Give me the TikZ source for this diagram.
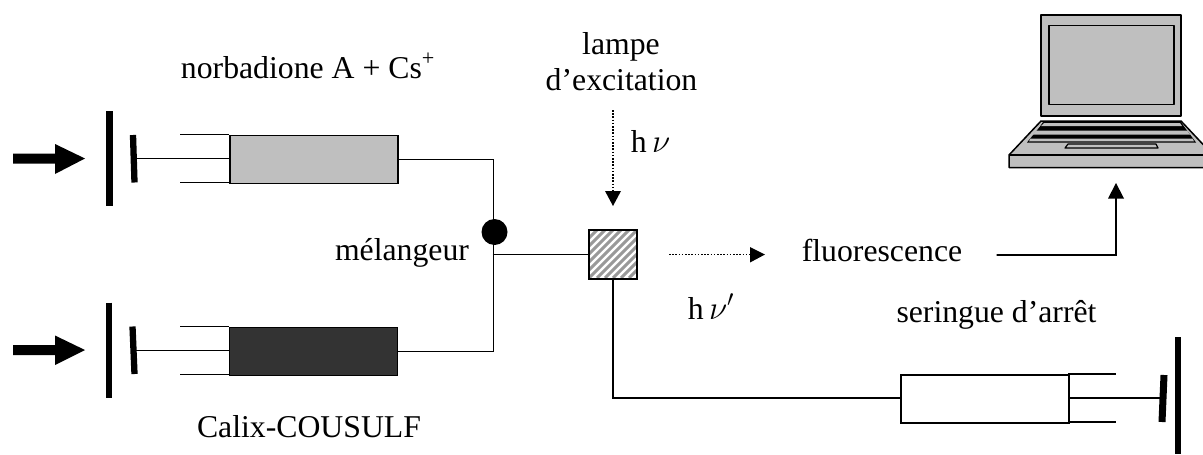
\documentclass[tikz,border=0pt]{standalone}
\usepackage{fontspec}
\setmainfont{Liberation Serif}
\begin{document}
\begin{tikzpicture}[x=0.75pt,y=-0.75pt,
  wire/.style={draw=black,line width=1.3pt*0.75,line cap=round},
  barrel/.style={draw=black,line width=1.5pt*0.75},
  hbar/.style={draw=black,line width=6.3pt*0.75},
  thrust/.style={fill=black,draw=none},
  head/.style={fill=black,draw=none},
  dots/.style={draw=black,line width=1.5pt*0.75,dash pattern=on 1.2pt off 1.2pt},
  lap/.style={draw=black,line width=1.5pt*0.75,fill=black!25,line join=round},
  lbl/.style={inner sep=0pt,font=\fontsize{23.8pt}{29pt}\selectfont,align=center}]
\useasboundingbox (0,0) rectangle (1203,454);
\begin{scope}
\clip (0,0) rectangle (1203,454);
% top syringe
\fill[thrust] (13,153.5) -- (55,153.5) -- (55,144) -- (85,158.5) -- (55,174) -- (55,163.5) -- (13,163.5) -- cycle;
\draw[hbar] (109.5,111) -- (109.5,206);
\draw[hbar] (133,135) -- (134.5,182.5);
\draw[barrel] (180,134.5) -- (229,134.5) (180,182.5) -- (229,182.5);
\node[draw=black,line width=1.5pt*0.75,fill=black!25,minimum width=168pt*0.75,minimum height=48pt*0.75,inner sep=0pt,anchor=north west] (boxA) at (229,134.5) {};
\coordinate (pa) at (136,158.5);
\draw[wire] (pa) -- (pa -| boxA.west);
% bottom syringe
\fill[thrust] (13,345) -- (55,345) -- (55,335.5) -- (85,350) -- (55,365) -- (55,355) -- (13,355) -- cycle;
\draw[hbar] (108.7,302.5) -- (108.7,398);
\draw[hbar] (132.5,326.5) -- (134.5,374);
\draw[barrel] (180,326.5) -- (229,326.5) (180,374.5) -- (229,374.5);
\node[draw=black,line width=1.5pt*0.75,fill=black!80,minimum width=168pt*0.75,minimum height=48pt*0.75,inner sep=0pt,anchor=north west] (boxB) at (228.5,326.5) {};
\coordinate (pb) at (136,350.5);
\draw[wire] (pb) -- (pb -| boxB.west);
% mixer
\coordinate (mj) at (493.5,254.5);
\draw[wire] (boxA.east) -- (boxA.east -| mj) -- (boxB.east -| mj) -- (boxB.east);
\node[circle,fill=black,minimum size=26pt*0.75,inner sep=0pt] (mix) at (494.5,232) {};
% cell
\node[draw=none,minimum size=48pt*0.75,inner sep=0pt] (cell) at (613,254.5) {};
\begin{scope}
\clip (cell.south west) rectangle (cell.north east);
\fill[white] (cell.south west) rectangle (cell.north east);
\foreach \i in {-48,-40,...,56}
  \draw[black!40,line width=3pt*0.75] (589+\i,278) -- (589+\i+48,230);
\end{scope}
\draw[black,line width=1.6pt*0.75] (cell.south west) rectangle (cell.north east);
\draw[wire] (mj) -- (cell.west);
% stop syringe
\node[draw=black,line width=1.5pt*0.75,fill=white,minimum width=168pt*0.75,minimum height=48pt*0.75,inner sep=0pt,anchor=north west] (boxC) at (900,374) {};
\coordinate (cr) at (613,398);
\draw[wire] (cell.south) -- (cr) -- (cr -| boxC.west);
\draw[barrel] (1068,374) -- (1116,374) (1068,422) -- (1116,422);
\coordinate (pc) at (1160,398);
\draw[wire] (pc -| boxC.east) -- (pc);
\draw[hbar,line width=7pt*0.75] (1164,375) -- (1162,422);
\draw[hbar,line width=6.5pt*0.75] (1178,337) -- (1178,454);
% light arrows
\coordinate (dt) at (613,110);
\draw[dots] (dt) -- (613,192);
\fill[head] (605,191) -- (621,191) -- (613,206) -- cycle;
\coordinate (hs) at (669,254.5);
\draw[dots] (hs) -- (752,254.5);
\fill[head] (750,247) -- (765,254.5) -- (750,262.5) -- cycle;
% fluorescence arrow
\coordinate (fs) at (997,255);
\coordinate (ft) at (1116,197);
\draw[wire] (fs) -- (ft |- fs) -- (ft);
\fill[head] (1108,198.5) -- (1124,198.5) -- (1116,183) -- cycle;
% laptop
\draw[lap] (1041,15) rectangle (1181,116);
\draw[lap] (1049,25.5) rectangle (1174,104.5);
\draw[lap] (1009,155) -- (1041,121) -- (1181,121) -- (1213,155) -- (1213,167.5) -- (1009,167.5) -- cycle;
\draw[lap] (1009,155) -- (1213,155);
\fill[black] (1040,126.5) -- (1043,122) -- (1181,122) -- (1184,126.5) -- (1196,142.5) -- (1027,142.5) -- cycle;
\fill[black!25] (1044,123) -- (1180,123) -- (1182,126) -- (1041,126) -- cycle;
\fill[black!25] (1036,130.5) -- (1187,130.5) -- (1190,134.5) -- (1033,134.5) -- cycle;
\fill[black!25] (1030.5,138.5) -- (1192.5,138.5) -- (1194,141.3) -- (1029,141.3) -- cycle;
\draw[lap,line width=1.2pt*0.75] (1065,148) -- (1068,144) -- (1156,144) -- (1158,148) -- cycle;
\end{scope}
% labels
\node[lbl,anchor=base] (t1) at (308,78) {norbadione A + Cs\textsuperscript{+}};
\node[lbl,anchor=base] (t2) at (621,54) {lampe};
\node[lbl,anchor=base] (t3) at (621.5,90.5) {d’excitation};
\node[lbl,anchor=base] (t4) at (650.5,152) {h\,$\nu$};
\node[lbl,anchor=base] (t5) at (402,260) {mélangeur};
\node[lbl,anchor=base] (t6) at (882,261) {fluorescence};
\node[lbl,anchor=base] (t7) at (711,319) {h\,$\nu'$};
\node[lbl,anchor=base] (t8) at (996.5,322) {seringue d’arrêt};
\node[lbl,anchor=base] (t9) at (309,437) {Calix-COUSULF};
\end{tikzpicture}
\end{document}
